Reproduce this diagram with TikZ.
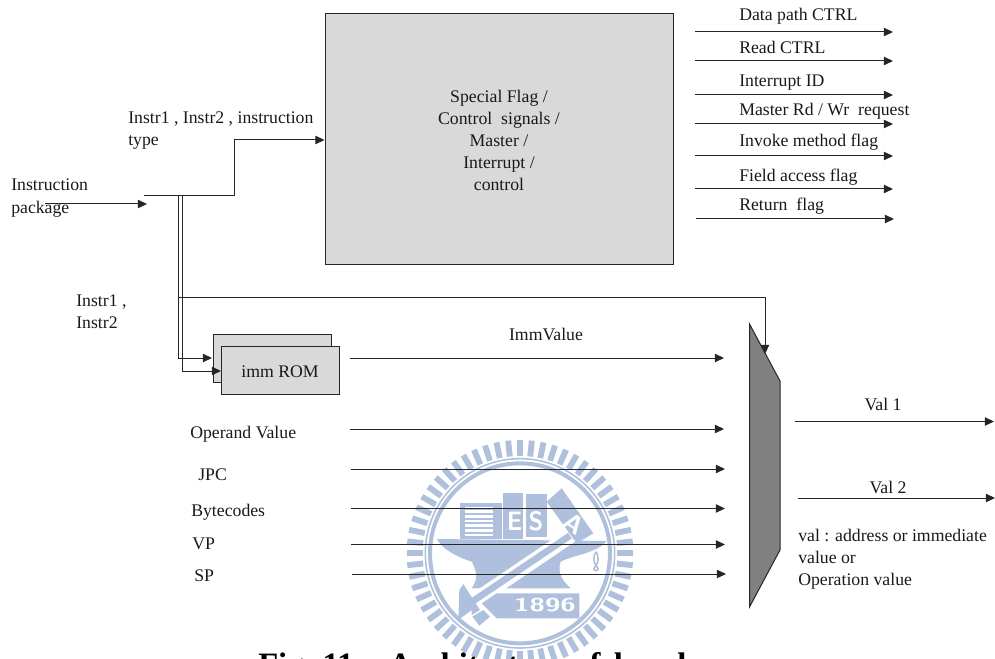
\documentclass[tikz,border=0pt]{standalone}
\usepackage{fontspec}
\setmainfont{Liberation Serif}
\usetikzlibrary{arrows.meta, positioning}
\definecolor{boxgray}{HTML}{D9D9D9}
\definecolor{muxgray}{HTML}{808080}
\definecolor{logoblue}{HTML}{AFC0DE}
\tikzset{
    lbl/.style={inner sep=0pt, anchor=base west, font=\fontsize{13.3}{16.5}\selectfont, align=left, text=black!90},
    lbltwo/.style={lbl, anchor=west},
    sig/.style={->, line width=0.75pt, draw=black!85},
    block/.style={draw=black!85, line width=0.75pt, fill=boxgray, inner sep=0pt},
    logotext/.style={text=white, inner sep=0pt},
}
\begin{document}
\begin{tikzpicture}[x=0.75pt, y=-0.75pt, >={Triangle[length=6.8pt,width=6.2pt]}]
    \useasboundingbox (0,0) rectangle (995,659);
    \clip (0,0) rectangle (995,659);

    % logo behind the lines
    \begin{scope}[xshift=300pt, yshift=-330pt, x=0.25pt, y=-0.25pt]
        \foreach \a in {0,6,...,354}
            \draw[logoblue, line width=4.4pt] (360,340) ++(\a:292) -- ++(\a:48);
        \draw[logoblue, line width=1.2pt] (360,340) circle (284);
        \draw[logoblue, line width=3pt] (360,340) circle (270);
        \fill[logoblue] (110,297) -- (620,303) .. controls (590,340) and (520,345) .. (482,365)
            .. controls (470,400) and (490,425) .. (512,445) -- (305,445) -- (215,445)
            .. controls (235,420) and (230,390) .. (215,365) .. controls (170,350) and (130,330) .. (110,297) -- cycle;
        \draw[white, line width=11pt] (530,275) -- (190,505);
        \draw[logoblue, line width=5pt] (510,287) -- (212,488);
        \fill[logoblue] (178,450) -- (190,432) -- (240,510) -- (215,525) -- (215,510) -- (175,540) -- cycle;
        \fill[logoblue] (217,530) -- (250,510) -- (270,530) -- (238,557) -- cycle;
        \fill[logoblue] (245,490) -- (290,460) -- (538,460) -- (538,535) -- (290,535) -- cycle;
        \fill[logoblue] (180,190) rectangle (305,297);
        \fill[logoblue] (308,158) rectangle (370,297);
        \fill[logoblue] (378,162) rectangle (440,292);
        \fill[logoblue] (485,145) -- (580,280) -- (530,310) -- (440,185) -- cycle;
        \fill[white] (196,200) rectangle (280,292);
        \foreach \y in {208,222,...,292}
            \draw[logoblue, line width=1.6pt] (196,\y) -- (280,\y);
        \node[logotext, font=\fontsize{20}{20}\selectfont\sffamily\bfseries, xscale=0.9] (logoE) at (344,245) {E};
        \node[logotext, font=\fontsize{20}{20}\selectfont\sffamily\bfseries, xscale=0.9] (logoS) at (408,245) {S};
        \node[logotext, font=\fontsize{19}{19}\selectfont\sffamily\bfseries, rotate=-35] (logoA) at (522,252) {A};
        \node[logotext, font=\fontsize{14}{14}\selectfont\sffamily\bfseries, xscale=1.5] (logoYear) at (435,495) {1896};
        \draw[logoblue, line width=1.2pt] (588,335) .. controls (565,375) and (610,385) .. (588,392) .. controls (566,385) and (610,375) .. (588,335);
    \end{scope}

    % control block
    \node[block, minimum width=261pt, minimum height=187.5pt] (ctrl) at (499,139) {};
    \node[inner sep=0pt, align=center, font=\fontsize{13.3}{16.4}\selectfont, text=black!90] (ctrlText) at (499,140.5)
        {Special Flag /\\Control\ \ signals /\\Master /\\Interrupt /\\control};

    % outputs of the control block
    \coordinate (dpA) at (695,32);    \coordinate (dpB) at (893,32);
    \coordinate (rdA) at (695,61);    \coordinate (rdB) at (893,61);
    \coordinate (idA) at (695,95);    \coordinate (idB) at (893,95);
    \coordinate (msA) at (695,124);   \coordinate (msB) at (893,124);
    \coordinate (inA) at (695,156);   \coordinate (inB) at (893,156);
    \coordinate (faA) at (695,189);   \coordinate (faB) at (893,189);
    \coordinate (reA) at (696,219);   \coordinate (reB) at (894,219);
    \draw[sig] (dpA) -- (dpB);
    \draw[sig] (rdA) -- (rdB);
    \draw[sig] (idA) -- (idB);
    \draw[sig] (msA) -- (msB);
    \draw[sig] (inA) -- (inB);
    \draw[sig] (faA) -- (faB);
    \draw[sig] (reA) -- (reB);
    \node[lbl] (dpL) at (739,21) {Data path CTRL};
    \node[lbl] (rdL) at (739,54) {Read CTRL};
    \node[lbl] (idL) at (739,87) {Interrupt ID};
    \node[lbl] (msL) at (739,116) {Master Rd / Wr\ \ request};
    \node[lbl] (inL) at (739,147) {Invoke method flag};
    \node[lbl] (faL) at (739,182) {Field access flag};
    \node[lbl] (reL) at (739,211) {Return\ \ flag};

    % instruction package
    \node[lbltwo, font=\fontsize{13.3}{17.2}\selectfont] (pkgL) at (11,198.5) {Instruction\\package};
    \coordinate (pkgA) at (45,204);
    \coordinate (pkgB) at (147,204);
    \draw[sig] (pkgA) -- (pkgB);
    \coordinate (busA) at (144,196);
    \coordinate (busB) at (178.5,196);
    \coordinate (busC) at (182.7,196);
    \coordinate (ctrlIn) at (ctrl.west |- 0,140);
    \draw[sig] (busA) -- (234,196) |- (ctrlIn);
    \node[lbltwo] (typeL) at (128,131) {Instr1 , Instr2 , instruction\\type};
    \node[lbltwo] (instrL) at (76,312) {Instr1 ,\\Instr2};

    % imm ROM
    \node[block, minimum width=88.5pt, minimum height=36pt] (romBack) at (272,358) {};
    \node[block, minimum width=88.5pt, minimum height=35.5pt] (rom) at (280,370.5) {};
    \node[lbl, anchor=base] (romL) at (280,377) {imm ROM};
    \coordinate (romInA) at (212,358);
    \coordinate (romInB) at (221,371);
    \draw[sig] (busB) |- (romInA);
    \draw[sig] (busC) |- (romInB);

    % mux
    \coordinate (muxA) at (749.5,324);
    \coordinate (muxB) at (780,381);
    \coordinate (muxC) at (780,550);
    \coordinate (muxD) at (749.5,607);
    \draw[fill=muxgray, draw=black!85, line width=0.75pt] (muxA) -- (muxB) -- (muxC) -- (muxD) -- cycle;
    \coordinate (selA) at (179,297);
    \coordinate (selB) at (765,354);
    \draw[sig] (selA) -| (selB);

    % inputs of the mux
    \coordinate (immA) at (350,358);  \coordinate (immB) at (724,358);
    \coordinate (opA) at (350,429);   \coordinate (opB) at (724,429);
    \coordinate (jpcA) at (351,469);  \coordinate (jpcB) at (725,469);
    \coordinate (bcA) at (351,508.5); \coordinate (bcB) at (725,508.5);
    \coordinate (vpA) at (351,544.5); \coordinate (vpB) at (725,544.5);
    \coordinate (spA) at (352,574);   \coordinate (spB) at (726,574);
    \draw[sig] (immA) -- (immB);
    \draw[sig] (opA) -- (opB);
    \draw[sig] (jpcA) -- (jpcB);
    \draw[sig] (bcA) -- (bcB);
    \draw[sig] (vpA) -- (vpB);
    \draw[sig] (spA) -- (spB);
    \node[lbl, anchor=base] (immL) at (546,340) {ImmValue};
    \node[lbl] (opL) at (190,438) {Operand Value};
    \node[lbl] (jpcL) at (198,480) {JPC};
    \node[lbl] (bcL) at (191,516) {Bytecodes};
    \node[lbl] (vpL) at (192,549) {VP};
    \node[lbl] (spL) at (194,581) {SP};

    % outputs of the mux
    \coordinate (valOneA) at (795,421.5);  \coordinate (valOneB) at (994,421.5);
    \coordinate (valTwoA) at (798,498);    \coordinate (valTwoB) at (995,498);
    \draw[sig] (valOneA) -- (valOneB);
    \draw[sig] (valTwoA) -- (valTwoB);
    \node[lbl, anchor=base] (valOneL) at (883,410) {Val 1};
    \node[lbl, anchor=base] (valTwoL) at (888,493) {Val 2};
    \node[lbltwo] (valNote) at (798,559) {val : address or immediate\\value or\\Operation value};

    % caption, cut by the page edge
    \node[inner sep=0pt, anchor=base west, font=\fontsize{24.5}{24.5}\selectfont\bfseries] (caption) at (258,675) {Fig. 11 :\hspace{12pt}Architecture of\hspace{3pt}decoder};
\end{tikzpicture}
\end{document}
